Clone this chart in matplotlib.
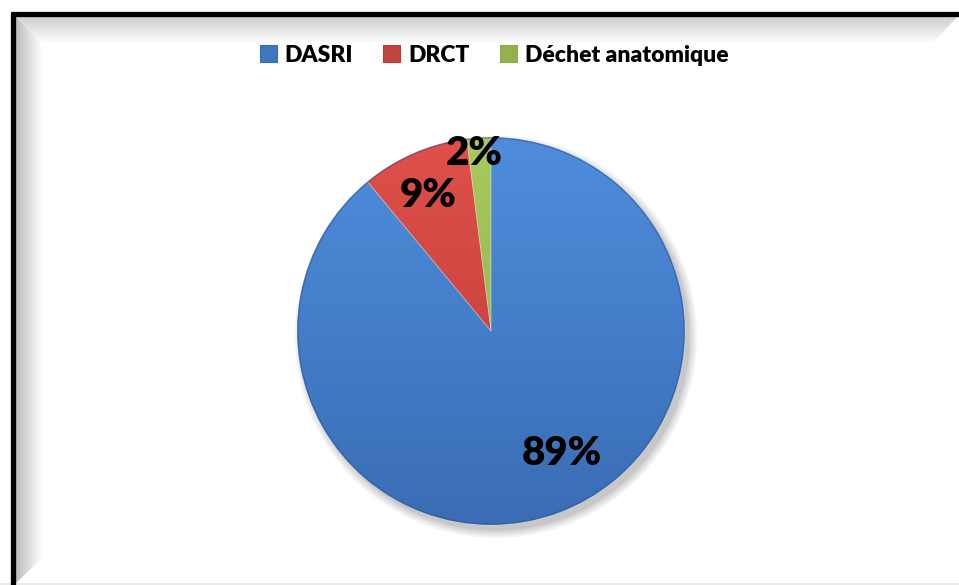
import matplotlib
matplotlib.use("Agg")
import matplotlib.pyplot as plt
import numpy as np
from matplotlib.patches import Polygon, Patch, Circle
from matplotlib.colors import LinearSegmentedColormap

# data
categories = ["DASRI", "DRCT", "Déchet anatomique"]
shares = [89, 9, 2]
pct_labels = ["89%", "9%", "2%"]

# colours (light top, dark bottom) per slice
light = ["#4f8ddc", "#e0504a", "#a9c95e"]
dark = ["#3a6db5", "#b83a36", "#8cab48"]
legend_cols = ["#3f76c0", "#c0443f", "#93b24f"]

W, H = 959, 585
fig = plt.figure(figsize=(W / 100, H / 100), dpi=100)
fig.patch.set_facecolor("white")

# background / frame in pixel coords
bg = fig.add_axes([0, 0, 1, 1])
bg.set_xlim(0, W)
bg.set_ylim(H, 0)
bg.axis("off")

def grad_poly(ax, pts, c0, c1, vertical=True):
    poly = Polygon(pts, closed=True, facecolor="none", edgecolor="none")
    ax.add_patch(poly)
    g = np.linspace(0, 1, 256)
    img = g[:, None] if vertical else g[None, :]
    cm = LinearSegmentedColormap.from_list("g", [c0, c1])
    xs = [p[0] for p in pts]
    ys = [p[1] for p in pts]
    im = ax.imshow(img, cmap=cm, extent=(min(xs), max(xs), max(ys), min(ys)),
                   aspect="auto", interpolation="bilinear", zorder=1)
    im.set_clip_path(poly)

grad_poly(bg, [(15, 16), (958, 16), (932, 44), (42, 44)], "#cdcdcd", "#ffffff", vertical=True)
grad_poly(bg, [(15, 16), (42, 44), (42, 558), (15, 584)], "#b9b9b9", "#ffffff", vertical=False)
bg.plot([0, W], [583.5, 583.5], color="#e6e6e6", lw=1.2, zorder=2)
bg.plot([11, W], [13.5, 13.5], color="black", lw=3.8, solid_capstyle="butt", zorder=3)
bg.plot([12.5, 12.5], [12, H], color="black", lw=3.8, solid_capstyle="butt", zorder=3)

# pie
cx, cy, R = 491, 331, 194
s = 1.08
ax = fig.add_axes([(cx - R * s) / W, (H - cy - R * s) / H, 2 * R * s / W, 2 * R * s / H])
ax.axis("off")

wedges, _ = ax.pie(shares, startangle=90, counterclock=False, radius=1,
                   colors=legend_cols, wedgeprops=dict(linewidth=0.6, edgecolor="#ffffff40"))
ax.set_xlim(-s, s)
ax.set_ylim(-s, s)

# soft shadow
for k, a in enumerate([0.05, 0.05, 0.06, 0.07]):
    ax.add_patch(Circle((0.025, -0.03), 1.0 + 0.012 * (3 - k), color="black", alpha=a, lw=0, zorder=0))

for w, c0, c1 in zip(wedges, light, dark):
    w.set_facecolor("none")
    cm = LinearSegmentedColormap.from_list("w", [c0, c1])
    im = ax.imshow(np.linspace(0, 1, 256)[:, None], cmap=cm, extent=(-1, 1, -1, 1),
                   aspect="auto", interpolation="bilinear", zorder=1)
    im.set_clip_path(w)
    w.set_zorder(2)
ax.set_xlim(-s, s)
ax.set_ylim(-s, s)

# darker rim
ax.add_patch(Circle((0, 0), 0.995, fill=False, edgecolor="#2d5590", lw=1.0, alpha=0.5, zorder=3))

# percentage labels
label_pos = [(0.73, 10.0), (0.77, 1.3), (0.92, 1.9)]  # (radius fraction, angle offset deg)
start = 90.0
for val, txt, (rf, off) in zip(shares, pct_labels, label_pos):
    span = val / sum(shares) * 360
    mid = np.deg2rad(start - span / 2 + off)
    ax.text(rf * np.cos(mid), rf * np.sin(mid), txt, ha="center", va="center",
            fontsize=29, fontweight="heavy", family="Lato", color="black", zorder=5)
    start -= span

# legend
handles = [Patch(facecolor=c, edgecolor=d, lw=0.8) for c, d in zip(legend_cols, dark)]
fig.legend(handles, categories, loc="center", bbox_to_anchor=(494 / W, 1 - 55 / H), ncol=3,
           frameon=False, prop=dict(family="Lato", weight="heavy", size=16.5),
           handlelength=0.75, handleheight=0.75, handletextpad=0.35, columnspacing=1.3)

fig.savefig("out.png", dpi=100)
